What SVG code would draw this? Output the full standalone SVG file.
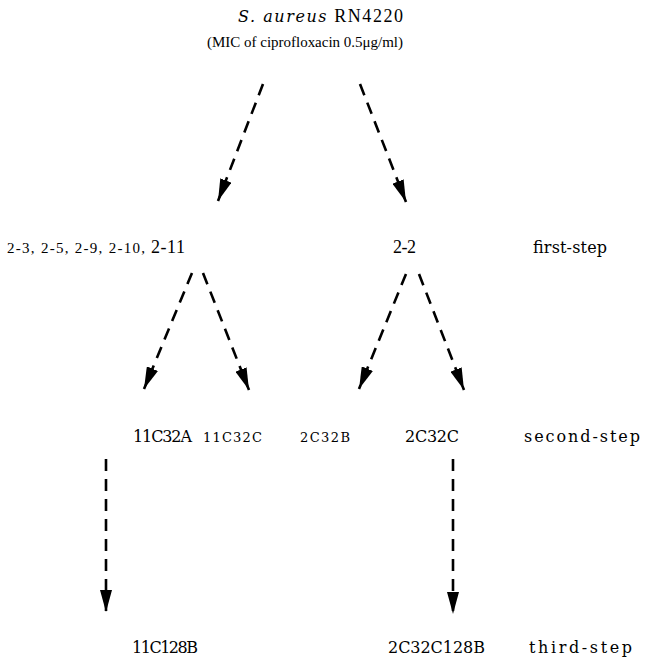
<svg xmlns="http://www.w3.org/2000/svg" width="645" height="657" viewBox="0 0 645 657">
<style>
text{font-family:"Liberation Serif","DejaVu Serif",serif;fill:#000}
.w{font-family:"DejaVu Serif","Liberation Serif",serif}
.t{font-size:18px}
.s{font-size:15px}
.m{font-size:16px}
.sm{font-size:13px}
.c{fill:none;stroke:#000;stroke-width:2.6;stroke-dasharray:12 8}
</style>
<defs>
<marker id="ah" markerWidth="22" markerHeight="12" refX="22" refY="6" orient="auto" markerUnits="userSpaceOnUse" viewBox="0 0 22 12"><path d="M0,0 L22,6 L0,12 Z" fill="#000"/></marker>
</defs>
<rect width="645" height="657" fill="#fff"/>
<g id="root">
<text class="t" x="238" y="22" textLength="165" lengthAdjust="spacing"><tspan class="w" font-style="italic" font-size="16">S. aureus</tspan> RN4220</text>
<text class="s" x="207" y="47" textLength="196" lengthAdjust="spacing">(MIC of ciprofloxacin 0.5μg/ml)</text>
</g>
<g id="first">
<text class="s" x="7" y="253" textLength="138" lengthAdjust="spacing">2-3, 2-5, 2-9, 2-10,</text>
<text class="t" x="151" y="253" textLength="34" lengthAdjust="spacing">2-11</text>
</g>
<g id="n22"><text class="t" x="393" y="253" textLength="23" lengthAdjust="spacing">2-2</text></g>
<g id="lbl1"><text class="m w" x="533" y="253" textLength="74" lengthAdjust="spacing">first-step</text></g>
<g id="n11C32A"><text class="m w" x="133" y="442" textLength="59" lengthAdjust="spacing">11C32A</text></g>
<g id="n11C32C"><text class="sm w" x="203" y="442" textLength="59" lengthAdjust="spacing">11C32C</text></g>
<g id="n2C32B"><text class="sm w" x="300" y="442" textLength="50" lengthAdjust="spacing">2C32B</text></g>
<g id="n2C32C"><text class="m w" x="405" y="442" textLength="54" lengthAdjust="spacing">2C32C</text></g>
<g id="lbl2"><text class="m w" x="524" y="442" textLength="116" lengthAdjust="spacing">second-step</text></g>
<g id="n11C128B"><text class="m w" x="132" y="653" textLength="66" lengthAdjust="spacing">11C128B</text></g>
<g id="n2C32C128B"><text class="m w" x="388" y="653" textLength="97" lengthAdjust="spacing">2C32C128B</text></g>
<g id="lbl3"><text class="m w" x="529" y="653" textLength="103" lengthAdjust="spacing">third-step</text></g>
<g id="connectors">
<line class="c" x1="263" y1="84" x2="218" y2="201" marker-end="url(#ah)"/>
<line class="c" x1="360" y1="84" x2="406" y2="202" marker-end="url(#ah)"/>
<line class="c" x1="192" y1="273" x2="144" y2="389" marker-end="url(#ah)"/>
<line class="c" x1="203" y1="273" x2="249" y2="390" marker-end="url(#ah)"/>
<line class="c" x1="406" y1="274" x2="359" y2="389" marker-end="url(#ah)"/>
<line class="c" x1="419" y1="274" x2="464" y2="390" marker-end="url(#ah)"/>
<line class="c" x1="106" y1="459" x2="106" y2="612" marker-end="url(#ah)"/>
<line class="c" x1="453" y1="459" x2="453" y2="614" marker-end="url(#ah)"/>
</g>
</svg>
